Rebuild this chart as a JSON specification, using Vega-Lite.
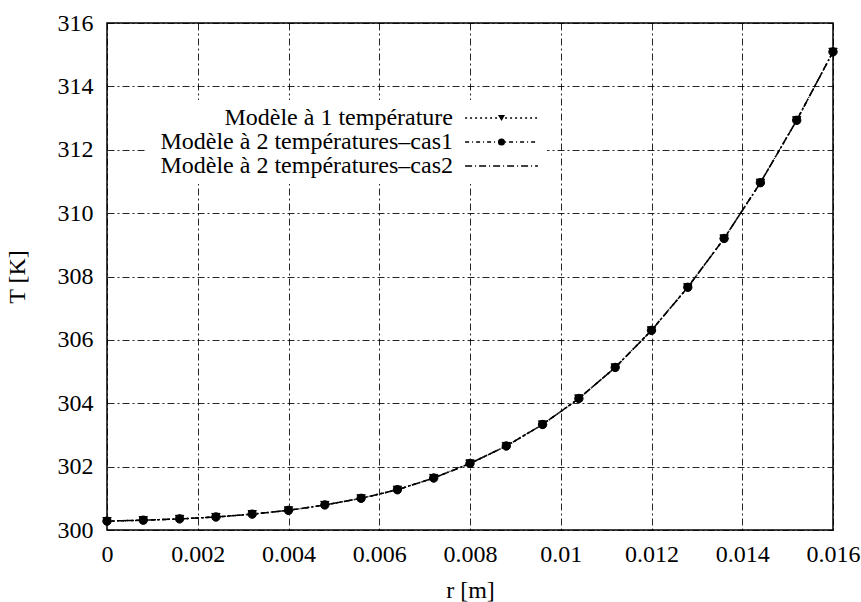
{
  "$schema": "https://vega.github.io/schema/vega-lite/v6.json",
  "width": 726,
  "height": 507,
  "autosize": {"type": "none"},
  "padding": {"left": 107, "top": 23, "right": 28, "bottom": 72},
  "background": "white",
  "config": {
    "font": "Liberation Serif",
    "view": {"stroke": "black", "strokeWidth": 1.5},
    "axis": {
      "labelFont": "Liberation Serif",
      "titleFont": "Liberation Serif",
      "labelFontSize": 24,
      "titleFontSize": 24,
      "titleFontWeight": "normal",
      "labelColor": "black",
      "titleColor": "black",
      "labelFlush": false,
      "grid": true,
      "gridColor": "black",
      "gridDash": [7, 3, 2, 3],
      "gridWidth": 1,
      "gridOpacity": 0.85,
      "domain": false,
      "ticks": false
    }
  },
  "data": {
    "values": [
      {"r": 0, "T": 300.28, "modele": "Modèle à 1 température"},
      {"r": 0.0008, "T": 300.31, "modele": "Modèle à 1 température"},
      {"r": 0.0016, "T": 300.35, "modele": "Modèle à 1 température"},
      {"r": 0.0024, "T": 300.41, "modele": "Modèle à 1 température"},
      {"r": 0.0032, "T": 300.5, "modele": "Modèle à 1 température"},
      {"r": 0.004, "T": 300.62, "modele": "Modèle à 1 température"},
      {"r": 0.0048, "T": 300.79, "modele": "Modèle à 1 température"},
      {"r": 0.0056, "T": 301.0, "modele": "Modèle à 1 température"},
      {"r": 0.0064, "T": 301.27, "modele": "Modèle à 1 température"},
      {"r": 0.0072, "T": 301.64, "modele": "Modèle à 1 température"},
      {"r": 0.008, "T": 302.1, "modele": "Modèle à 1 température"},
      {"r": 0.0088, "T": 302.65, "modele": "Modèle à 1 température"},
      {"r": 0.0096, "T": 303.33, "modele": "Modèle à 1 température"},
      {"r": 0.0104, "T": 304.15, "modele": "Modèle à 1 température"},
      {"r": 0.0112, "T": 305.13, "modele": "Modèle à 1 température"},
      {"r": 0.012, "T": 306.3, "modele": "Modèle à 1 température"},
      {"r": 0.0128, "T": 307.66, "modele": "Modèle à 1 température"},
      {"r": 0.0136, "T": 309.2, "modele": "Modèle à 1 température"},
      {"r": 0.0144, "T": 310.96, "modele": "Modèle à 1 température"},
      {"r": 0.0152, "T": 312.93, "modele": "Modèle à 1 température"},
      {"r": 0.016, "T": 315.09, "modele": "Modèle à 1 température"},
      {"r": 0, "T": 300.28, "modele": "Modèle à 2 températures–cas1"},
      {"r": 0.0008, "T": 300.31, "modele": "Modèle à 2 températures–cas1"},
      {"r": 0.0016, "T": 300.35, "modele": "Modèle à 2 températures–cas1"},
      {"r": 0.0024, "T": 300.41, "modele": "Modèle à 2 températures–cas1"},
      {"r": 0.0032, "T": 300.5, "modele": "Modèle à 2 températures–cas1"},
      {"r": 0.004, "T": 300.62, "modele": "Modèle à 2 températures–cas1"},
      {"r": 0.0048, "T": 300.79, "modele": "Modèle à 2 températures–cas1"},
      {"r": 0.0056, "T": 301.0, "modele": "Modèle à 2 températures–cas1"},
      {"r": 0.0064, "T": 301.27, "modele": "Modèle à 2 températures–cas1"},
      {"r": 0.0072, "T": 301.64, "modele": "Modèle à 2 températures–cas1"},
      {"r": 0.008, "T": 302.1, "modele": "Modèle à 2 températures–cas1"},
      {"r": 0.0088, "T": 302.65, "modele": "Modèle à 2 températures–cas1"},
      {"r": 0.0096, "T": 303.33, "modele": "Modèle à 2 températures–cas1"},
      {"r": 0.0104, "T": 304.15, "modele": "Modèle à 2 températures–cas1"},
      {"r": 0.0112, "T": 305.13, "modele": "Modèle à 2 températures–cas1"},
      {"r": 0.012, "T": 306.3, "modele": "Modèle à 2 températures–cas1"},
      {"r": 0.0128, "T": 307.66, "modele": "Modèle à 2 températures–cas1"},
      {"r": 0.0136, "T": 309.2, "modele": "Modèle à 2 températures–cas1"},
      {"r": 0.0144, "T": 310.96, "modele": "Modèle à 2 températures–cas1"},
      {"r": 0.0152, "T": 312.93, "modele": "Modèle à 2 températures–cas1"},
      {"r": 0.016, "T": 315.09, "modele": "Modèle à 2 températures–cas1"},
      {"r": 0, "T": 300.28, "modele": "Modèle à 2 températures–cas2"},
      {"r": 0.0008, "T": 300.31, "modele": "Modèle à 2 températures–cas2"},
      {"r": 0.0016, "T": 300.35, "modele": "Modèle à 2 températures–cas2"},
      {"r": 0.0024, "T": 300.41, "modele": "Modèle à 2 températures–cas2"},
      {"r": 0.0032, "T": 300.5, "modele": "Modèle à 2 températures–cas2"},
      {"r": 0.004, "T": 300.62, "modele": "Modèle à 2 températures–cas2"},
      {"r": 0.0048, "T": 300.79, "modele": "Modèle à 2 températures–cas2"},
      {"r": 0.0056, "T": 301.0, "modele": "Modèle à 2 températures–cas2"},
      {"r": 0.0064, "T": 301.27, "modele": "Modèle à 2 températures–cas2"},
      {"r": 0.0072, "T": 301.64, "modele": "Modèle à 2 températures–cas2"},
      {"r": 0.008, "T": 302.1, "modele": "Modèle à 2 températures–cas2"},
      {"r": 0.0088, "T": 302.65, "modele": "Modèle à 2 températures–cas2"},
      {"r": 0.0096, "T": 303.33, "modele": "Modèle à 2 températures–cas2"},
      {"r": 0.0104, "T": 304.15, "modele": "Modèle à 2 températures–cas2"},
      {"r": 0.0112, "T": 305.13, "modele": "Modèle à 2 températures–cas2"},
      {"r": 0.012, "T": 306.3, "modele": "Modèle à 2 températures–cas2"},
      {"r": 0.0128, "T": 307.66, "modele": "Modèle à 2 températures–cas2"},
      {"r": 0.0136, "T": 309.2, "modele": "Modèle à 2 températures–cas2"},
      {"r": 0.0144, "T": 310.96, "modele": "Modèle à 2 températures–cas2"},
      {"r": 0.0152, "T": 312.93, "modele": "Modèle à 2 températures–cas2"},
      {"r": 0.016, "T": 315.09, "modele": "Modèle à 2 températures–cas2"}
    ]
  },
  "encoding": {
    "x": {
      "field": "r",
      "type": "quantitative",
      "scale": {"domain": [0, 0.016], "nice": false},
      "axis": {"title": "r [m]", "tickCount": 8, "format": "~g", "labelPadding": 12, "titlePadding": 12}
    },
    "y": {
      "field": "T",
      "type": "quantitative",
      "scale": {"domain": [300, 316], "nice": false, "zero": false},
      "axis": {"title": "T [K]", "tickCount": 8, "labelPadding": 14, "titlePadding": 28}
    }
  },
  "layer": [
    {
      "mark": {"type": "line", "color": "black", "strokeWidth": 1.5},
      "encoding": {
        "strokeDash": {
          "field": "modele",
          "type": "nominal",
          "scale": {"range": [[2, 3], [4, 3, 1, 3], [7, 3, 1, 3]]},
          "legend": {
            "orient": "none",
            "legendX": 38,
            "legendY": 77,
            "title": null,
            "symbolType": "M-10.3,0H10.3",
            "symbolSize": 50,
            "symbolStrokeWidth": 1.5,
            "symbolStrokeColor": "black",
            "symbolFillColor": "transparent",
            "symbolOffset": 338.5,
            "labelAlign": "right",
            "labelOffset": -60.5,
            "labelFont": "Liberation Serif",
            "labelFontSize": 24,
            "labelColor": "black",
            "labelLimit": 400,
            "rowPadding": -2,
            "padding": 6,
            "fillColor": "white",
            "zindex": 1
          }
        }
      }
    },
    {
      "mark": {"type": "point", "filled": true, "color": "black", "stroke": "black", "strokeWidth": 1, "size": 70, "opacity": 1},
      "encoding": {
        "shape": {
          "field": "modele",
          "type": "nominal",
          "scale": {
            "domain": ["Modèle à 1 température", "Modèle à 2 températures–cas1", "Modèle à 2 températures–cas2"],
            "range": ["triangle-down", "circle", "M-1,0H1M0,-1V1M-0.7,-0.7L0.7,0.7M-0.7,0.7L0.7,-0.7"]
          },
          "legend": {
            "orient": "none",
            "legendX": 38,
            "legendY": 77,
            "title": null,
            "symbolSize": 50,
            "symbolStrokeWidth": 1.5,
            "symbolOffset": 338.5,
            "symbolFillColor": "black",
            "symbolStrokeColor": "black",
            "labelOpacity": 0,
            "labelFont": "Liberation Serif",
            "labelFontSize": 24,
            "labelLimit": 400,
            "rowPadding": -2,
            "padding": 6,
            "zindex": 2,
            "encode": {
              "symbols": {
                "stroke": {"value": "black"},
                "strokeWidth": {"value": 1.5},
                "fill": {
                  "condition": {"test": "datum.value === 'Modèle à 2 températures–cas1'", "value": "white"},
                  "value": "black"
                }
              }
            }
          }
        }
      }
    }
  ]
}
